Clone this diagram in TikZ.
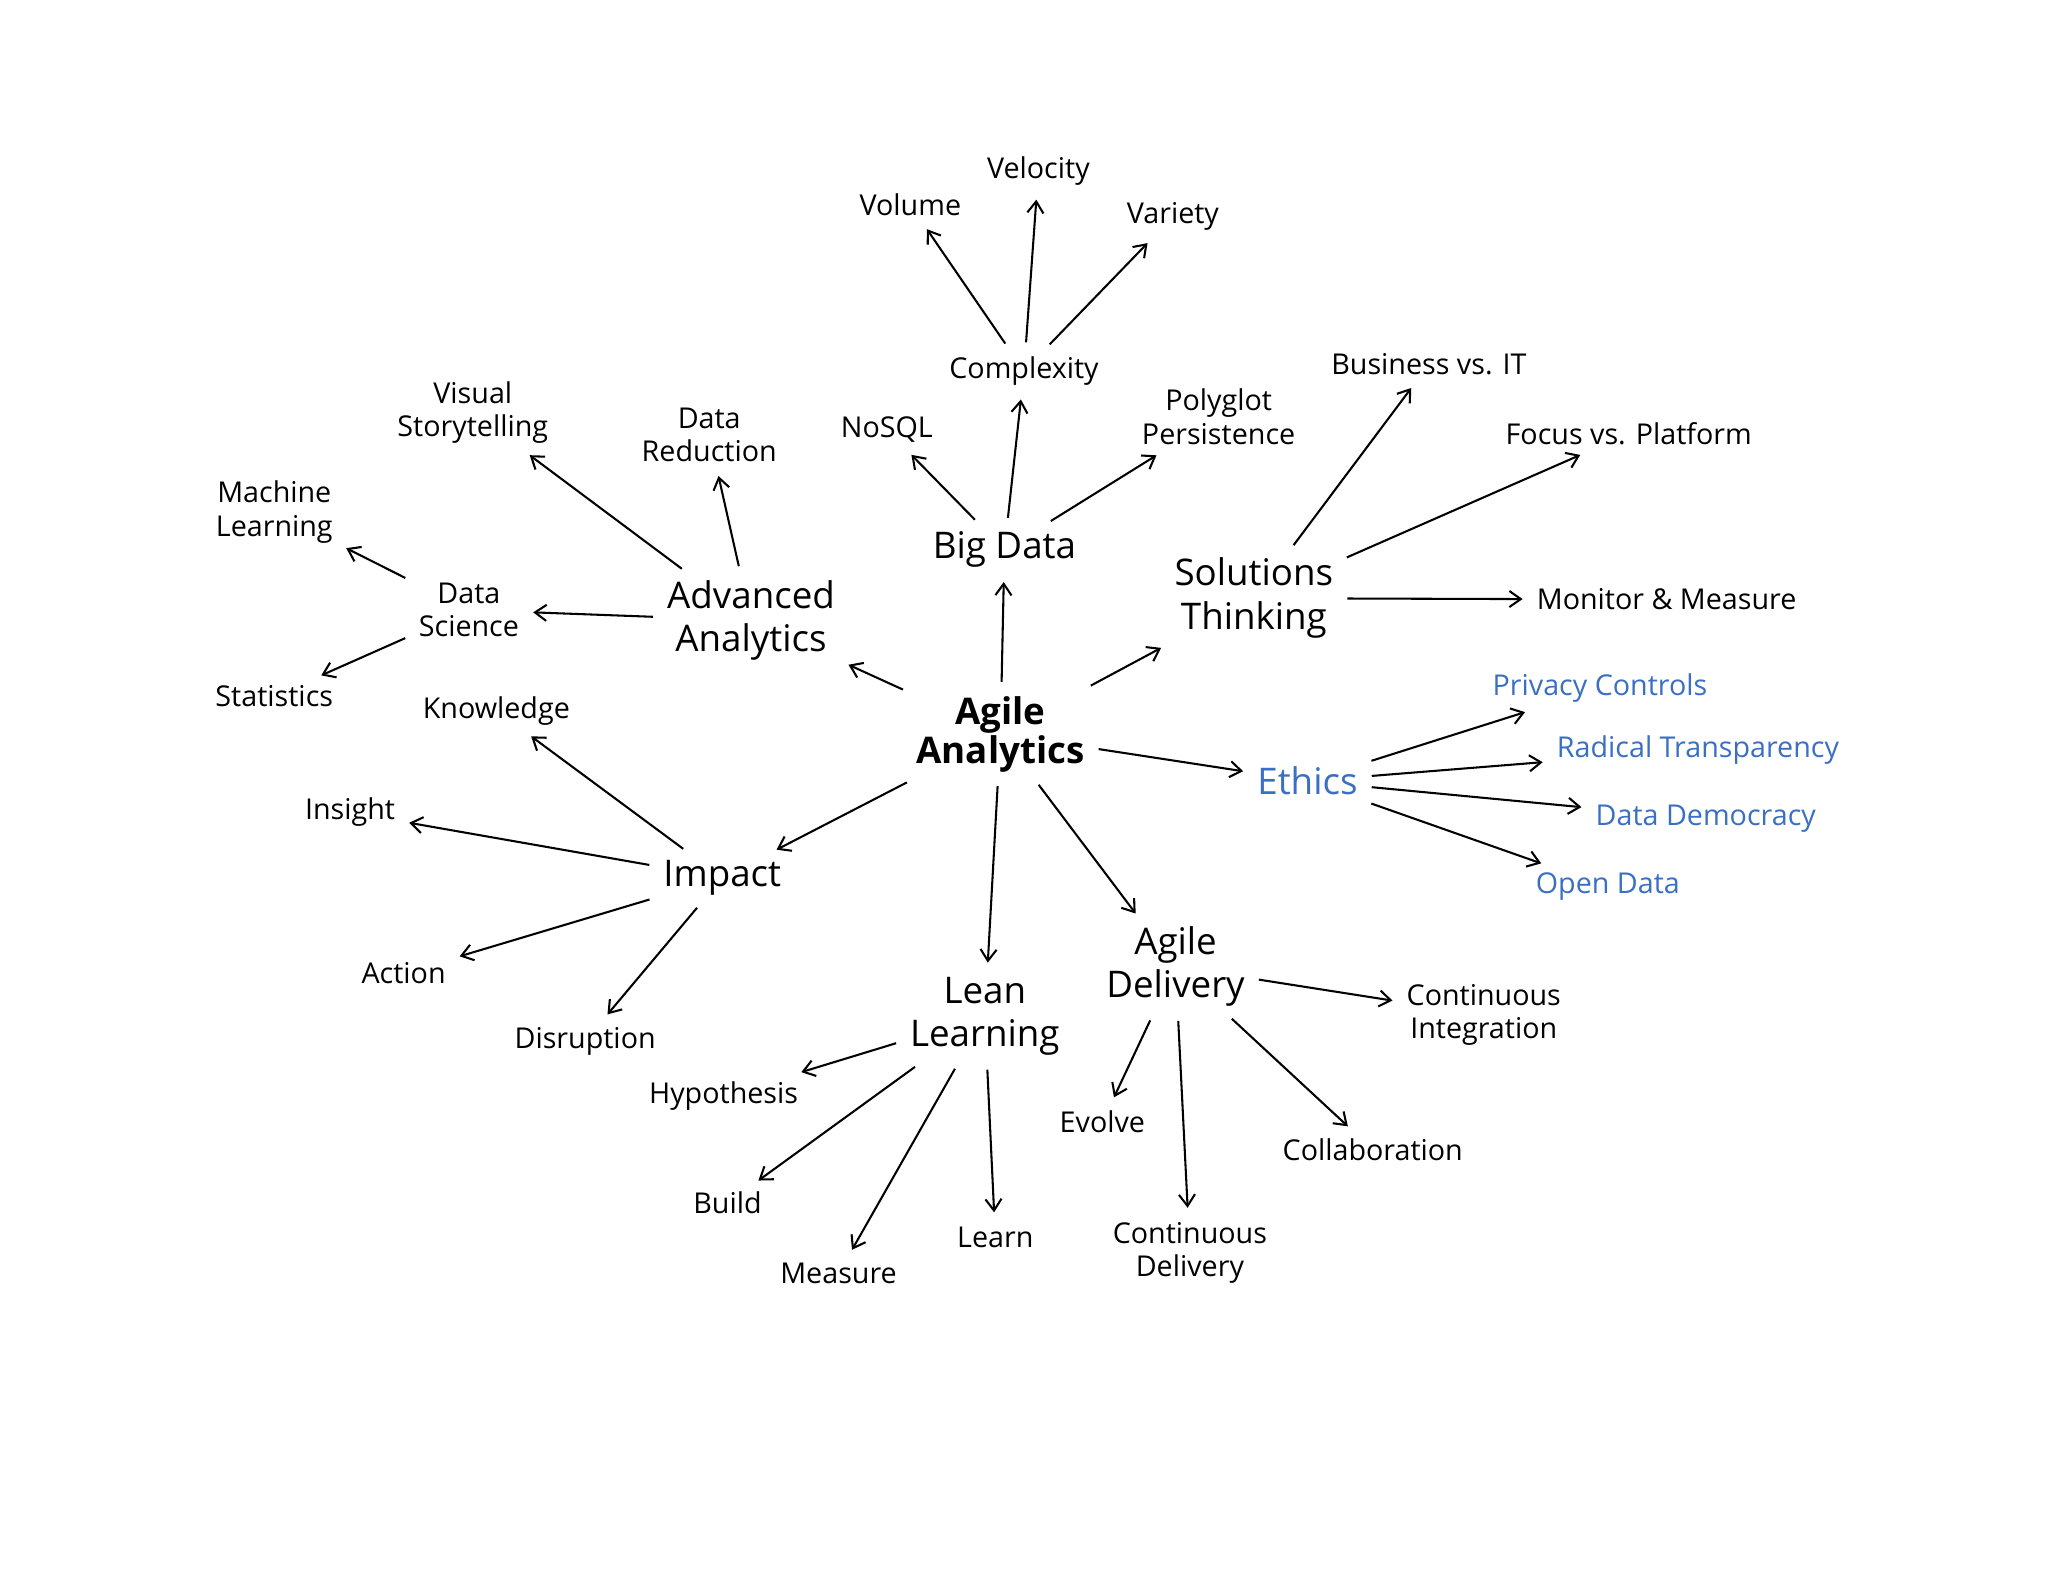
\documentclass[tikz,border=0pt]{standalone}
\usepackage{fontspec}
\setmainfont{Open Sans}
\usetikzlibrary{arrows.meta}
\definecolor{eblue}{HTML}{3A6FC4}
\begin{document}
\begin{tikzpicture}[x=0.02cm,y=-0.02cm,
  sm/.style={font=\fontsize{12.5}{14.5}\selectfont,align=center,inner sep=3pt},
  lt/.style={sm},
  lg/.style={font=\fontsize{16}{19}\selectfont,align=center,inner sep=3pt},
  bl/.style={text=eblue},
  ar/.style={-{Straight Barb[length=5pt,width=7pt]},line width=0.9pt,shorten <=3pt,shorten >=3pt}]
\useasboundingbox (0,0) rectangle (1568,1211);
\node[font=\bfseries\fontsize{16}{17}\selectfont,align=center,inner sep=3pt] (aa) at (766,562) {Agile\\Analytics};
\node[lg] (bd) at (769,421) {Big Data};
\node[lg] (adv) at (575,475) {Advanced\\Analytics};
\node[lg] (st) at (960,458) {Solutions\\Thinking};
\node[lg,bl] (eth) at (1001,598) {Ethics};
\node[lg] (imp) at (553,672) {Impact};
\node[lg] (ll) at (754,778) {Lean\\Learning};
\node[lg] (ad) at (900,740) {Agile\\Delivery};
\node[sm] (cx) at (784,284) {Complexity};
\node[lt] (vol) at (697,157) {Volume};
\node[lt] (vel) at (795,131) {Velocity};
\node[lt] (var) at (898,166) {Variety};
\node[sm] (nosql) at (679,329) {NoSQL};
\node[sm] (poly) at (933,319) {Polyglot\\Persistence};
\node[sm] (bit) at (1094,279) {Business vs. IT};
\node[sm] (fvp) at (1247,332) {Focus vs. Platform};
\node[sm] (mm) at (1276,459) {Monitor \& Measure};
\node[sm,bl] (pc) at (1225,527) {Privacy Controls};
\node[sm,bl] (rt) at (1300,574) {Radical Transparency};
\node[sm,bl] (dd) at (1306,627) {Data Democracy};
\node[sm,bl] (od) at (1231,679) {Open Data};
\node[sm] (ci) at (1136,777) {Continuous\\Integration};
\node[sm] (col) at (1051,880) {Collaboration};
\node[sm] (cd) at (911,959) {Continuous\\Delivery};
\node[sm] (ev) at (844,859) {Evolve};
\node[sm] (le) at (762,947) {Learn};
\node[sm] (me) at (642,975) {Measure};
\node[sm] (bu) at (557,921) {Build};
\node[sm] (hy) at (554,839) {Hypothesis};
\node[sm] (di) at (448,797) {Disruption};
\node[sm] (ac) at (309,745) {Action};
\node[sm] (in) at (268,622) {Insight};
\node[sm] (kn) at (380,544) {Knowledge};
\node[sm] (ds) at (359,467) {Data\\Science};
\node[lt] (ml) at (210,392) {Machine\\Learning};
\node[lt] (stat) at (210,533) {Statistics};
\node[sm] (vs) at (362,316) {Visual\\Storytelling};
\node[sm] (dr) at (543,333) {Data\\Reduction};
\draw[ar] (aa) -- (bd);
\draw[ar] (aa) -- (adv);
\draw[ar] (aa) -- (st);
\draw[ar] (aa) -- (eth);
\draw[ar] (aa) -- (imp);
\draw[ar] (aa) -- (ll);
\draw[ar] (aa) -- (ad);
\draw[ar] (bd) -- (cx);
\draw[ar] (bd) -- (nosql);
\draw[ar] (bd) -- (poly);
\draw[ar] (cx) -- (vol);
\draw[ar] (cx) -- (vel);
\draw[ar] (cx) -- (var);
\draw[ar] (st) -- (bit);
\draw[ar] (st) -- (fvp);
\draw[ar] (st) -- (mm);
\draw[ar] (eth) -- (pc);
\draw[ar] (eth) -- (rt);
\draw[ar] (eth) -- (dd);
\draw[ar] (eth) -- (od);
\draw[ar] (ad) -- (ci);
\draw[ar] (ad) -- (col);
\draw[ar] (ad) -- (cd);
\draw[ar] (ad) -- (ev);
\draw[ar] (ll) -- (le);
\draw[ar] (ll) -- (me);
\draw[ar] (ll) -- (bu);
\draw[ar] (ll) -- (hy);
\draw[ar] (imp) -- (di);
\draw[ar] (imp) -- (ac);
\draw[ar] (imp) -- (in);
\draw[ar] (imp) -- (kn);
\draw[ar] (adv) -- (ds);
\draw[ar] (adv) -- (vs);
\draw[ar] (adv) -- (dr);
\draw[ar] (ds) -- (ml);
\draw[ar] (ds) -- (stat);
\end{tikzpicture}
\end{document}
